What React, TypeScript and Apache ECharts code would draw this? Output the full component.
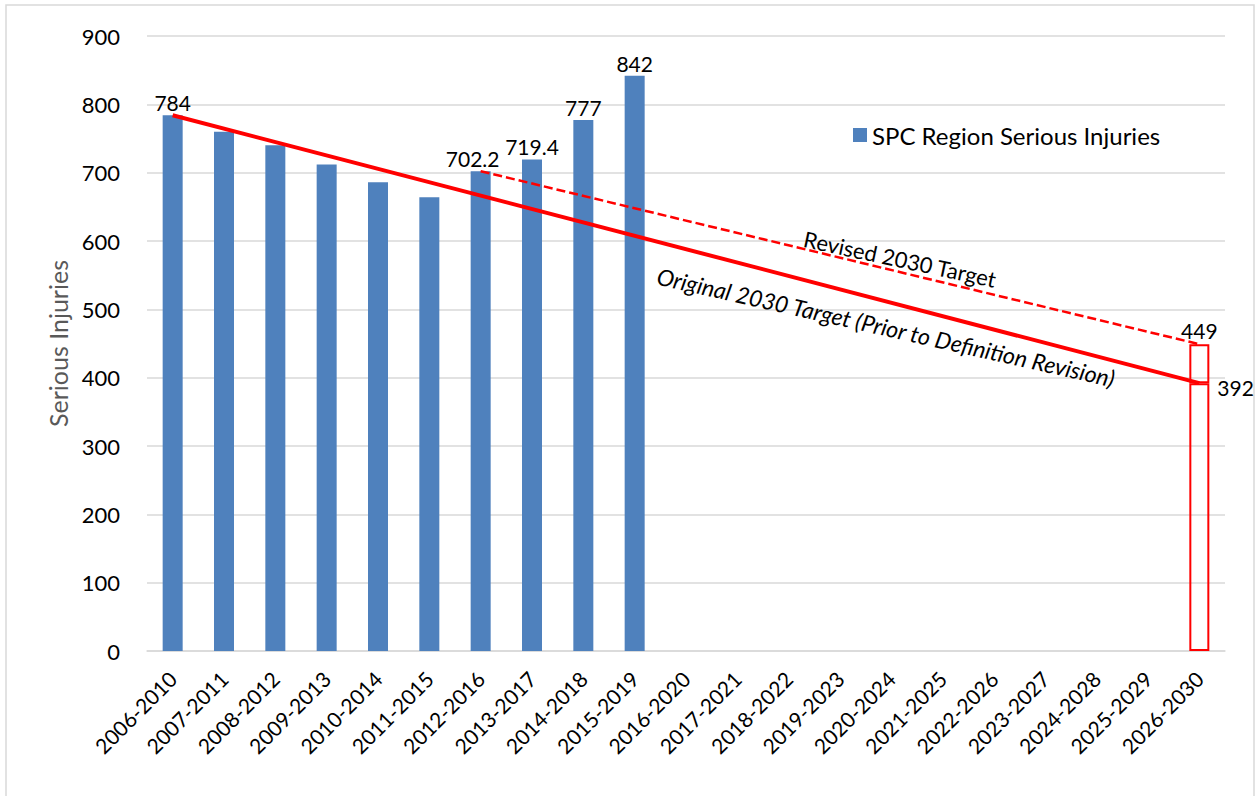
import React, { useEffect, useRef } from "react";
import * as echarts from "echarts";

const categories = [
  "2006-2010", "2007-2011", "2008-2012", "2009-2013", "2010-2014", "2011-2015",
  "2012-2016", "2013-2017", "2014-2018", "2015-2019", "2016-2020", "2017-2021",
  "2018-2022", "2019-2023", "2020-2024", "2021-2025", "2022-2026", "2023-2027",
  "2024-2028", "2025-2029", "2026-2030",
];
const N = null;
const injuries = [784, 760, 740, 712, 686, 664, 702.2, 719.4, 777, 842, N, N, N, N, N, N, N, N, N, N, N];
const labelledBars = [0, 6, 7, 8, 9];
const originalTarget = [784, N, N, N, N, N, N, N, N, N, N, N, N, N, N, N, N, N, N, N, 392];
const revisedTarget = [N, N, N, N, N, N, 702.2, N, N, N, N, N, N, N, N, N, N, N, N, N, 449];
const yTicks = { min: 0, max: 900, interval: 100 };

const FONT = "Lato, 'Open Sans', sans-serif";
const RED = "#ff0000";

export default function App() {
  const ref = useRef<HTMLDivElement>(null);
  useEffect(() => {
    document.body.style.margin = "0";
    const chart = echarts.init(ref.current!, null, { renderer: "svg" });
    const last = categories.length - 1;
    const origEnd = originalTarget[last] as number;
    const revEnd = revisedTarget[last] as number;
    const boxLower = categories.map((_, i) => (i === last ? origEnd : null));
    const boxUpper = categories.map((_, i) => (i === last ? revEnd - origEnd : null));

    chart.setOption({
      animation: false,
      backgroundColor: "#ffffff",
      textStyle: { fontFamily: FONT },
      grid: { left: 147, right: 35, top: 36, bottom: 145, containLabel: false },
      legend: {
        show: true,
        data: ["SPC Region Serious Injuries"],
        left: 848,
        top: 118,
        icon: "rect",
        itemWidth: 14,
        itemHeight: 14,
        itemGap: 6,
        textStyle: { fontFamily: FONT, fontSize: 24, color: "#000" },
      },
      xAxis: {
        type: "category",
        data: categories,
        boundaryGap: true,
        axisLine: { show: true, lineStyle: { color: "#d9d9d9", width: 1.5 } },
        axisTick: { show: false },
        axisLabel: { rotate: 45, fontSize: 21, color: "#000", fontFamily: FONT, margin: 24, interval: 0 },
        splitLine: { show: false },
      },
      yAxis: {
        type: "value",
        min: yTicks.min,
        max: yTicks.max,
        interval: yTicks.interval,
        name: "Serious Injuries",
        nameLocation: "middle",
        nameGap: 76,
        nameTextStyle: { fontFamily: FONT, fontSize: 25, color: "#595959" },
        axisLine: { show: false },
        axisTick: { show: false },
        axisLabel: { fontSize: 22, color: "#000", fontFamily: FONT, margin: 27 },
        splitLine: { show: true, lineStyle: { color: "#d9d9d9", width: 1.5 } },
      },
      series: [
        {
          name: "SPC Region Serious Injuries",
          type: "bar",
          barWidth: 20,
          barGap: "-100%",
          itemStyle: { color: "#4f81bd" },
          label: { fontFamily: FONT, fontSize: 21, color: "#000", position: "top", distance: 2 },
          data: injuries.map((v, i) => ({
            value: v,
            label: { show: labelledBars.includes(i), offset: i === 6 ? [-8, 0] : [0, 0] },
          })),
          z: 2,
        },
        {
          name: "boxLower",
          type: "bar",
          stack: "target",
          barWidth: 20,
          barGap: "-100%",
          itemStyle: { color: "rgba(0,0,0,0)", borderColor: RED, borderWidth: 2 },
          label: {
            show: true,
            position: ["100%", 0],
            align: "left",
            verticalAlign: "middle",
            offset: [8, 4],
            fontFamily: FONT,
            fontSize: 21,
            color: "#000",
            formatter: (p: any) => (p.value == null ? "" : String(p.value)),
          },
          data: boxLower,
          z: 3,
        },
        {
          name: "boxUpper",
          type: "bar",
          stack: "target",
          barWidth: 20,
          barGap: "-100%",
          itemStyle: { color: "rgba(0,0,0,0)", borderColor: RED, borderWidth: 2 },
          label: {
            show: true,
            position: "top",
            distance: 3,
            fontFamily: FONT,
            fontSize: 21,
            color: "#000",
            formatter: () => String(revEnd),
          },
          data: boxUpper,
          z: 3,
        },
        {
          name: "Original 2030 Target",
          type: "line",
          data: originalTarget,
          connectNulls: true,
          symbol: "none",
          lineStyle: { color: RED, width: 4 },
          z: 5,
        },
        {
          name: "Revised 2030 Target",
          type: "line",
          data: revisedTarget,
          connectNulls: true,
          symbol: "none",
          lineStyle: { color: RED, width: 2.5, type: [9, 4] },
          z: 5,
        },
      ],
      graphic: [
        {
          type: "rect",
          shape: { x: 6, y: 5, width: 1248, height: 820 },
          style: { fill: "none", stroke: "#d9d9d9", lineWidth: 1.5 },
          silent: true,
          z: -10,
        },
        {
          type: "text",
          x: 900,
          y: 259,
          rotation: -0.211,
          style: {
            text: "Revised 2030 Target",
            fontFamily: FONT,
            fontSize: 22,
            fill: "#000",
            align: "center",
            verticalAlign: "middle",
          },
          z: 10,
        },
        {
          type: "text",
          x: 886,
          y: 327,
          rotation: -0.222,
          style: {
            text: "Original 2030 Target (Prior to Definition Revision)",
            fontFamily: FONT,
            fontSize: 23,
            fontStyle: "italic",
            fill: "#000",
            align: "center",
            verticalAlign: "middle",
          },
          z: 10,
        },
      ],
    });
    return () => chart.dispose();
  }, []);
  return <div ref={ref} style={{ width: 1260, height: 796 }} />;
}
